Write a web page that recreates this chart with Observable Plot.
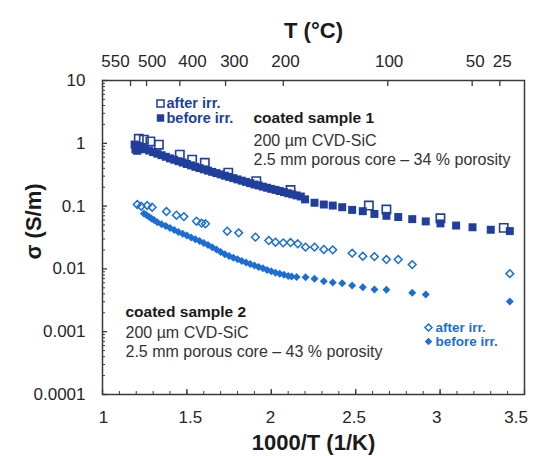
<!DOCTYPE html>
<html><head><meta charset="utf-8">
<script src="https://cdn.jsdelivr.net/npm/d3@7"></script>
<script src="https://cdn.jsdelivr.net/npm/@observablehq/plot@0.6"></script>
<style>body{margin:0;background:#fff;} svg{display:block}</style>
</head><body><div id="chart"></div>
<script>
// ---- data (1000/T in 1/K, sigma in S/m) ----
const s1BeforeX = [1.190,1.195,1.200,1.205,1.215,1.220,1.230,1.250,1.275,1.300,1.325,1.350,1.375,1.400,1.425,1.450,1.475,1.500,1.525,1.550,1.575,1.600,1.625,1.650,1.675,1.700,1.725,1.750,1.775,1.800,1.825,1.850,1.875,1.900,1.925,1.950,1.975,2.000,2.025,2.050,2.075,2.100,2.125,2.150,2.175,2.200,2.256,2.311,2.364,2.420,2.479,2.542,2.611,2.682,2.752,2.835,2.915,3.002,3.095,3.192,3.300,3.413];
const s1BeforeY = [0.955,0.80,0.929,0.76,0.891,0.80,0.857,0.813,0.767,0.724,0.684,0.646,0.610,0.575,0.547,0.519,0.493,0.468,0.445,0.422,0.403,0.385,0.367,0.351,0.335,0.320,0.305,0.292,0.279,0.266,0.254,0.243,0.232,0.221,0.213,0.204,0.196,0.188,0.181,0.174,0.167,0.160,0.154,0.148,0.142,0.128,0.113,0.106,0.102,0.096,0.087,0.083,0.075,0.070,0.067,0.062,0.057,0.053,0.049,0.046,0.042,0.040];
const s1AfterX = [1.215,1.245,1.284,1.334,1.458,1.531,1.606,1.745,1.911,2.114,2.578,2.682,3.002,3.377];
const s1AfterY = [1.18,1.14,1.07,0.95,0.66,0.55,0.49,0.34,0.25,0.18,0.102,0.088,0.064,0.045];
const s2AfterX = [1.206,1.229,1.265,1.294,1.379,1.438,1.482,1.557,1.587,1.610,1.739,1.807,1.906,1.985,2.025,2.071,2.114,2.157,2.203,2.256,2.311,2.364,2.479,2.542,2.611,2.682,2.752,2.835,3.413];
const s2AfterY = [0.106,0.0996,0.102,0.096,0.082,0.0716,0.068,0.0575,0.0535,0.0523,0.0398,0.0375,0.032,0.0283,0.0266,0.026,0.0263,0.0251,0.0222,0.0222,0.0204,0.0201,0.0178,0.0159,0.0157,0.0141,0.0141,0.0117,0.0084];
const s2BeforeX = [1.245,1.260,1.275,1.290,1.305,1.325,1.350,1.375,1.400,1.425,1.450,1.475,1.500,1.525,1.550,1.575,1.600,1.625,1.650,1.675,1.700,1.725,1.750,1.775,1.800,1.825,1.850,1.875,1.900,1.925,1.950,1.975,2.000,2.025,2.050,2.075,2.100,2.120,2.150,2.203,2.256,2.311,2.364,2.420,2.479,2.542,2.611,2.682,2.835,2.915,3.413];
const s2BeforeY = [0.0759,0.0720,0.0676,0.0637,0.0600,0.0555,0.0515,0.0480,0.0447,0.0417,0.0388,0.0363,0.0339,0.0316,0.0296,0.0277,0.0258,0.0241,0.0221,0.0203,0.0186,0.0171,0.0161,0.0151,0.0142,0.0134,0.0127,0.0120,0.0113,0.0107,0.0102,0.00964,0.00914,0.00871,0.00838,0.00805,0.00774,0.00755,0.00745,0.00738,0.00695,0.00637,0.00607,0.00591,0.00544,0.00511,0.0047,0.00465,0.00416,0.00391,0.00303];

const xMajorTicks = [1, 1.5, 2, 2.5, 3, 3.5];
const xTickLabels = ["1", "1.5", "2", "2.5", "3", "3.5"];
const xLabelPos = [1.006, 1.52, 1.995, 2.49, 2.98, 3.45];
const yMajorTicks = [10, 1, 0.1, 0.01, 0.001, 0.0001];
const yTickLabels = ["10", "1", "0.1", "0.01", "0.001", "0.0001"];
const topTickLabels = ["550", "500", "400", "300", "200", "100", "50", "25"];
const topTickPos = [1.166, 1.261, 1.458, 1.729, 2.071, 2.690, 3.190, 3.354];
const topLabelPos = [1.077, 1.294, 1.533, 1.781, 2.084, 2.698, 3.208, 3.368];

// ---- build ----
const zip = (xs, ys) => xs.map((x, i) => ({x, y: ys[i]}));
const s1Before = zip(s1BeforeX, s1BeforeY);
const s1After = zip(s1AfterX, s1AfterY);
const s2Before = zip(s2BeforeX, s2BeforeY);
const s2After = zip(s2AfterX, s2AfterY);
const xMinorTicks = d3.range(10, 36).map(d => d / 10);
const yMinorTicks = d3.range(-4, 1).flatMap(e => d3.range(2, 10).map(m => m * 10 ** e));
const topLabels = topTickLabels.map((label, i) => ({label, pos: topLabelPos[i]}));
const bottomLabels = xTickLabels.map((label, i) => ({label, pos: xLabelPos[i]}));

const c1 = "#203F9C", c2 = "#1C6ED4", ink = "#262626", axisCol = "#3a3a3a";
const font = "'Liberation Sans', Arial, Helvetica, sans-serif";
const T = (txt, o) => Plot.text([txt], {lineAnchor: "middle", ...o});

const chart = Plot.plot({
  width: 534, height: 456,
  marginLeft: 102, marginRight: 10, marginTop: 80, marginBottom: 62,
  style: {fontFamily: font, background: "white", color: ink},
  x: {domain: [1, 3.5]},
  y: {type: "log", domain: [1e-4, 10]},
  marks: [
    Plot.frame({stroke: axisCol, strokeWidth: 1.5}),
    // bottom axis
    Plot.axisX({ticks: xMinorTicks, anchor: "bottom", tickSize: -3, tickFormat: () => "", label: null, stroke: axisCol}),
    Plot.axisX({ticks: xMajorTicks, anchor: "bottom", tickSize: -5, tickFormat: () => "", label: null, stroke: axisCol, strokeWidth: 1.3}),
    Plot.text(bottomLabels, {x: "pos", text: "label", frameAnchor: "bottom", lineAnchor: "middle", textAnchor: "middle", dy: 23, fontSize: 17, fill: ink}),
    // left axis
    Plot.axisY({ticks: yMinorTicks, anchor: "left", tickSize: -3, tickFormat: () => "", label: null, stroke: axisCol}),
    Plot.axisY({ticks: yMajorTicks, anchor: "left", tickSize: -5, tickFormat: () => "", label: null, stroke: axisCol, strokeWidth: 1.3}),
    Plot.axisY({ticks: yMajorTicks, anchor: "left", tickSize: 0, tickPadding: 17, fontSize: 17, label: null, fill: ink,
      tickFormat: d => yTickLabels[yMajorTicks.indexOf(d)]}),
    // top axis (temperature)
    Plot.axisX({ticks: topTickPos, anchor: "top", tickSize: -5, tickFormat: () => "", label: null, stroke: axisCol, strokeWidth: 1.3}),
    Plot.text(topLabels, {x: "pos", text: "label", frameAnchor: "top", lineAnchor: "middle", textAnchor: "middle", dy: -19, fontSize: 17, fill: ink}),
    // axis titles
    T("T (°C)", {frameAnchor: "top", textAnchor: "middle", dy: -50, fontSize: 22, fontWeight: "bold", fill: "#1a1a1a"}),
    T("1000/T (1/K)", {frameAnchor: "bottom", textAnchor: "middle", dy: 48, fontSize: 22, fontWeight: "bold", fill: "#1a1a1a"}),
    T("σ (S/m)", {frameAnchor: "left", textAnchor: "middle", dx: -69, dy: -16, rotate: -90, fontSize: 22, fontWeight: "bold", fill: "#1a1a1a"}),
    // data
    Plot.dot(s1Before, {x: "x", y: "y", symbol: "square", r: 4.5, fill: c1}),
    Plot.dot(s1After, {x: "x", y: "y", symbol: "square", r: 4.7, fill: "none", stroke: c1, strokeWidth: 1.6}),
    Plot.dot(s2After, {x: "x", y: "y", symbol: "diamond2", r: 3.5, fill: "none", stroke: c2, strokeWidth: 1.5}),
    Plot.dot(s2Before, {x: "x", y: "y", symbol: "diamond2", r: 3.6, fill: c2}),
    // legend 1
    Plot.dot([0], {frameAnchor: "top-left", dx: 58, dy: 23, symbol: "square", r: 4, fill: "white", stroke: c1, strokeWidth: 1.5}),
    Plot.dot([0], {frameAnchor: "top-left", dx: 58, dy: 37.5, symbol: "square", r: 4.2, fill: c1}),
    T("after irr.\nbefore irr.", {frameAnchor: "top-left", dx: 64, dy: 30.25, textAnchor: "start", lineHeight: 1, fontSize: 14.5, fontWeight: "bold", fill: c1}),
    // annotation 1
    T("coated sample 1", {frameAnchor: "top-left", dx: 151, dy: 38, textAnchor: "start", fontSize: 15.5, fontWeight: "bold", fill: "#1a1a1a"}),
    T("200 µm CVD-SiC\n2.5 mm porous core – 34 % porosity", {frameAnchor: "top-left", dx: 151, dy: 68.75, lineHeight: 1.22, textAnchor: "start", fontSize: 16, fill: "#333"}),
    // annotation 2
    T("coated sample 2", {frameAnchor: "top-left", dx: 23, dy: 232, textAnchor: "start", fontSize: 15.5, fontWeight: "bold", fill: "#1a1a1a"}),
    T("200 µm CVD-SiC\n2.5 mm porous core – 43 % porosity", {frameAnchor: "top-left", dx: 23, dy: 260.5, lineHeight: 1.19, textAnchor: "start", fontSize: 16, fill: "#333"}),
    // legend 2
    Plot.dot([0], {frameAnchor: "top-left", dx: 326, dy: 247, symbol: "diamond2", r: 3.2, fill: "white", stroke: c2, strokeWidth: 1.5}),
    Plot.dot([0], {frameAnchor: "top-left", dx: 326, dy: 261, symbol: "diamond2", r: 3.4, fill: c2}),
    T("after irr.\nbefore irr.", {frameAnchor: "top-left", dx: 333, dy: 254, textAnchor: "start", lineHeight: 1.04, fontSize: 13.5, fontWeight: "bold", fill: c2})
  ]
});
document.getElementById("chart").append(chart);
</script>
</body></html>
